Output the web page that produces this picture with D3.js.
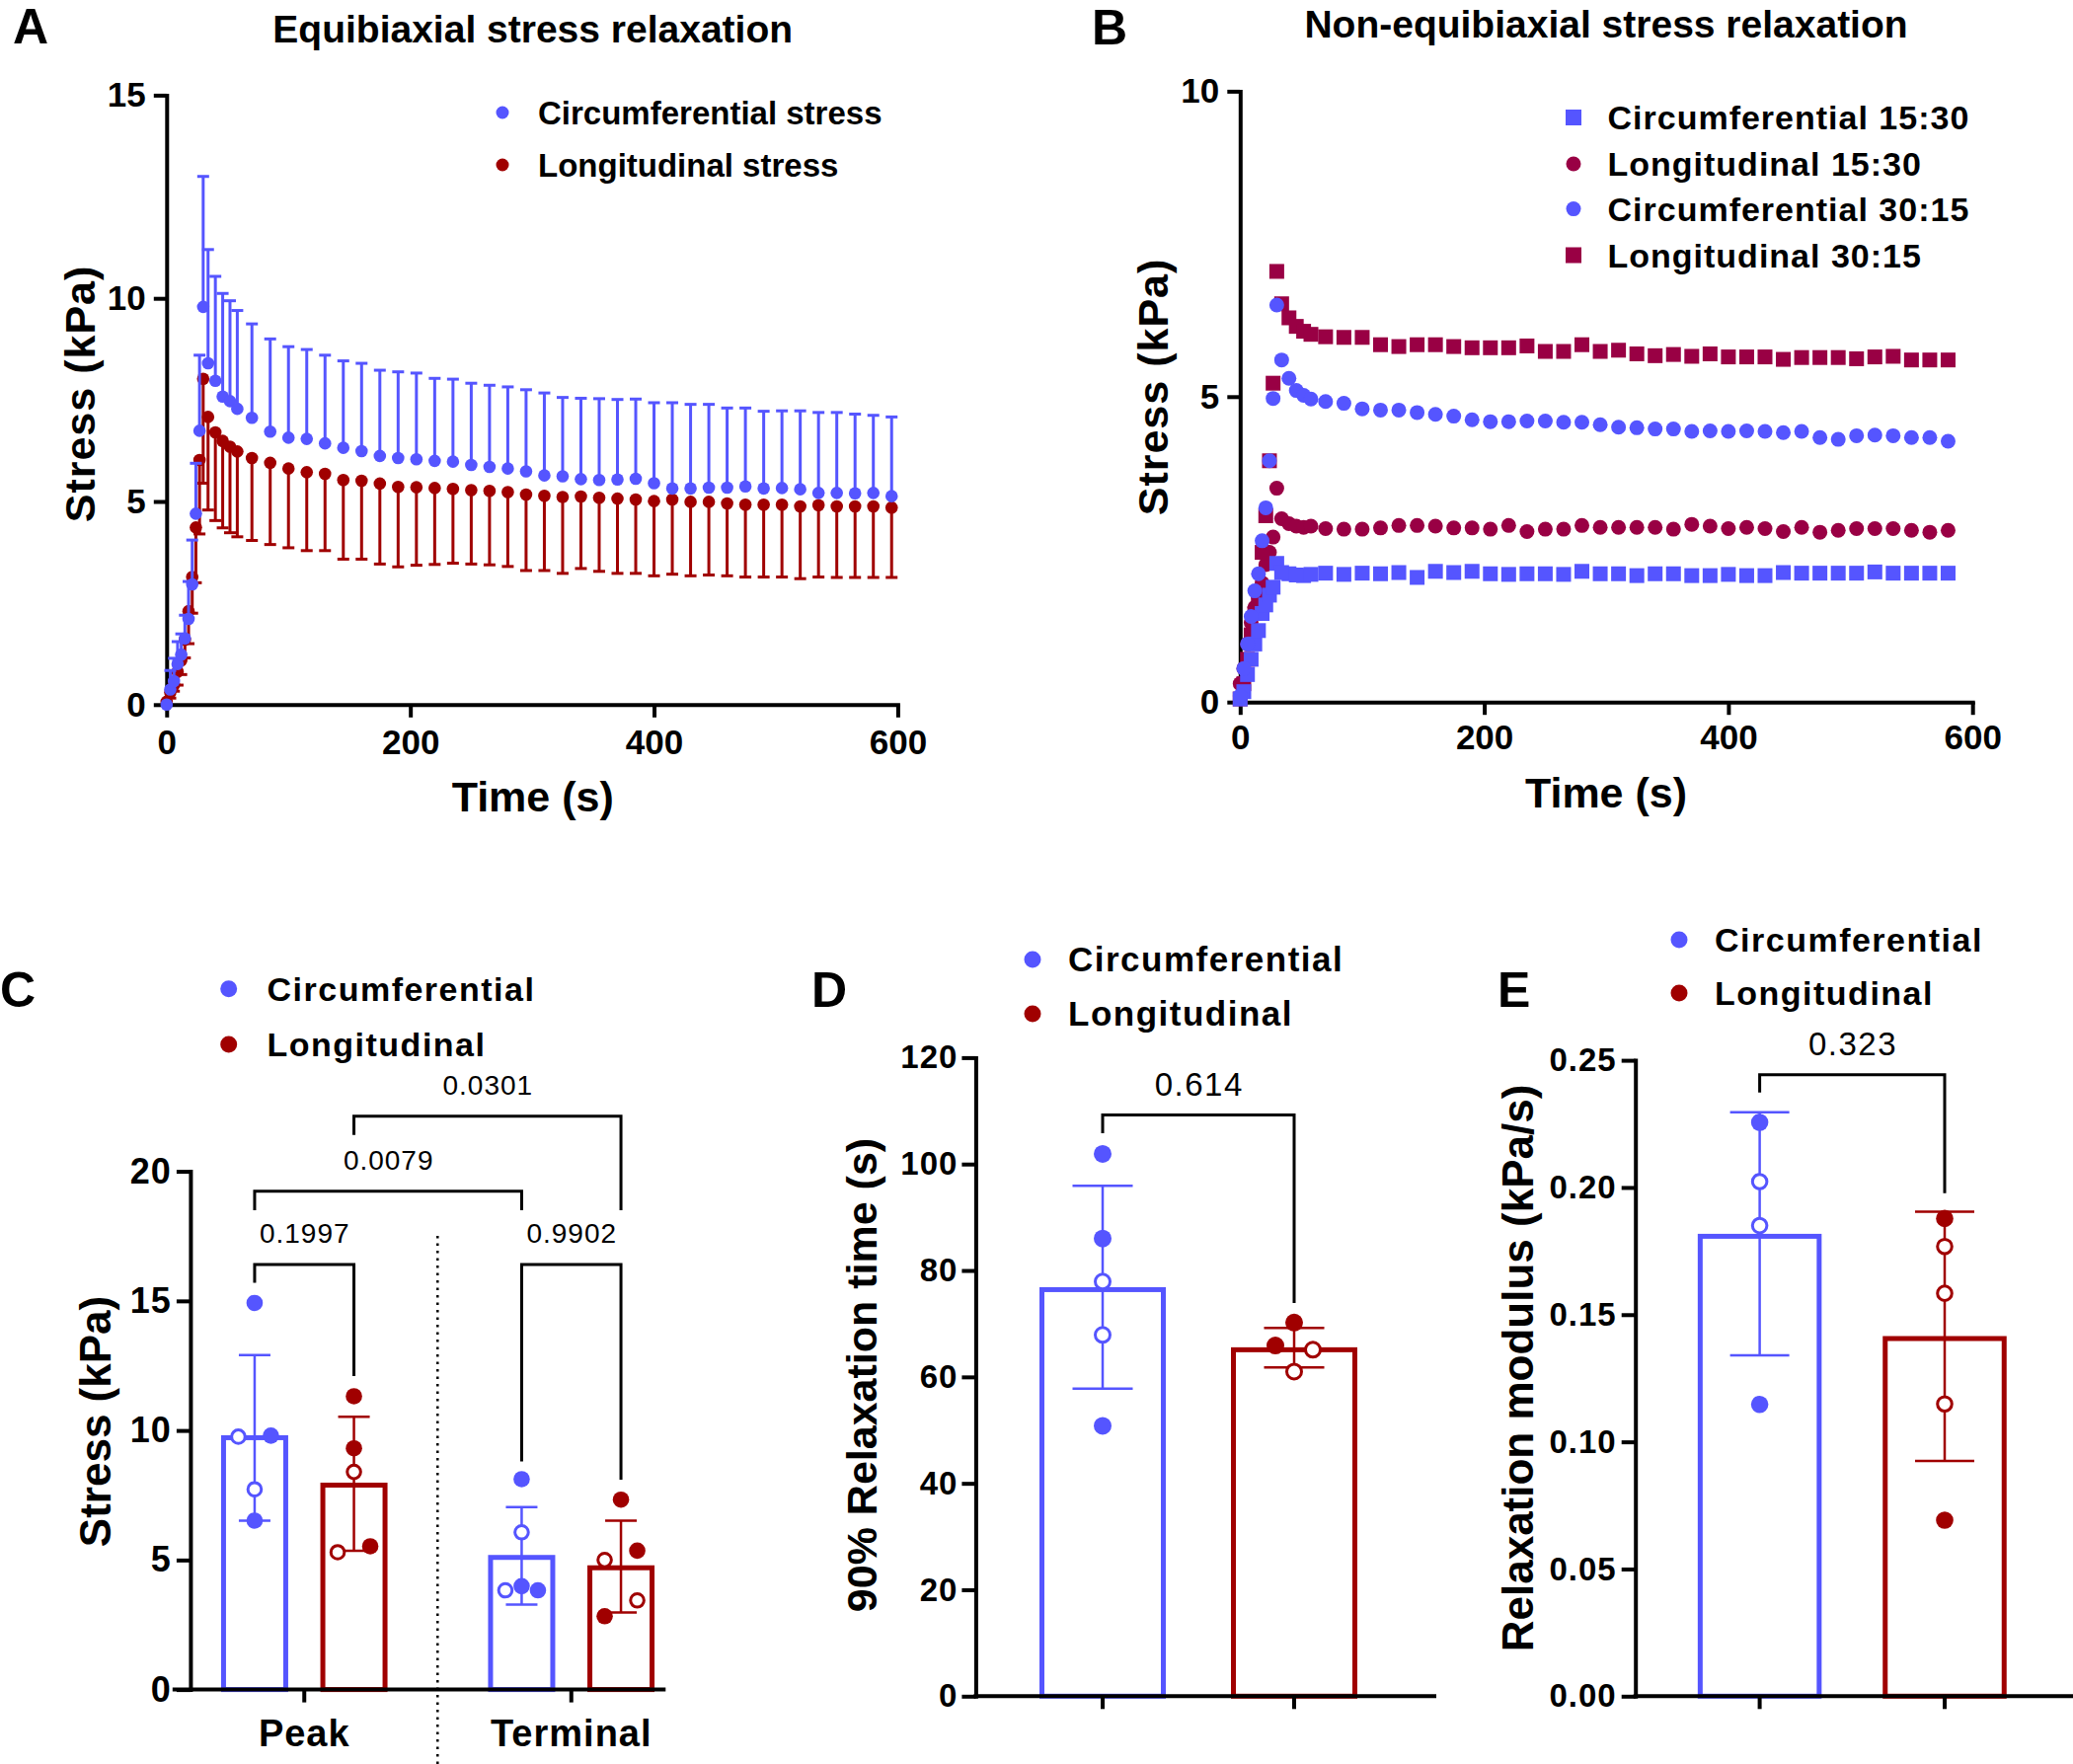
<!DOCTYPE html>
<html><head><meta charset="utf-8">
<script src="https://cdn.jsdelivr.net/npm/d3@7"></script>
<style>body{margin:0;background:#fff}svg{display:block}</style>
</head><body><svg id="c" width="2100" height="1787"></svg>
<script>
// ---------------- DATA ----------------
// Panel A: equibiaxial stress relaxation (mean, SD bar ends)
const timesA=[0,3,6,9,12,15,18,21,24,27,30,34,40,46,52,58,70,85,100,115,130,145,160,175,190,205,220,235,250,265,280,295,310,325,340,355,370,385,400,415,430,445,460,475,490,505,520,535,550,565,580,595];
const circA=[0,0.37,0.58,1.0,1.23,1.63,2.11,2.96,4.70,6.74,9.79,8.40,7.97,7.58,7.47,7.28,7.06,6.72,6.57,6.54,6.43,6.32,6.24,6.12,6.07,6.04,6.00,5.98,5.90,5.85,5.81,5.74,5.64,5.62,5.55,5.53,5.54,5.56,5.45,5.32,5.32,5.34,5.34,5.37,5.32,5.33,5.30,5.21,5.21,5.20,5.21,5.13];
const circAUpper=[0,0.84,1.14,1.55,1.74,2.2,3.03,4.05,5.94,8.6,13.0,11.2,10.54,10.12,9.94,9.70,9.37,9.0,8.81,8.74,8.60,8.46,8.40,8.23,8.19,8.16,8.03,8.01,7.91,7.86,7.82,7.75,7.67,7.56,7.54,7.53,7.51,7.52,7.43,7.43,7.39,7.39,7.30,7.30,7.22,7.23,7.23,7.19,7.19,7.15,7.12,7.08];
const longA=[0.07,0.30,0.48,0.81,1.09,1.60,2.30,3.14,4.36,6.02,8.02,7.08,6.70,6.49,6.35,6.23,6.07,5.95,5.81,5.72,5.68,5.53,5.51,5.44,5.36,5.35,5.33,5.31,5.28,5.26,5.23,5.17,5.14,5.11,5.12,5.09,5.07,5.05,5.01,5.05,4.99,4.99,4.95,4.92,4.92,4.92,4.88,4.91,4.88,4.88,4.88,4.85];
const longALower=[0.07,0.16,0.33,0.48,0.74,1.15,1.5,2.25,3.0,4.2,5.45,4.79,4.53,4.35,4.23,4.13,4.04,3.94,3.86,3.79,3.79,3.58,3.58,3.46,3.39,3.43,3.45,3.48,3.46,3.44,3.40,3.30,3.30,3.23,3.35,3.28,3.23,3.23,3.17,3.21,3.17,3.19,3.17,3.14,3.14,3.14,3.10,3.14,3.13,3.13,3.13,3.13];
const legendA=["Circumferential stress","Longitudinal stress"];

// Panel B: non-equibiaxial stress relaxation
const timesB=[0,3,6,9,12,15,18,21,24,27,30,34,40,46,52,58,70,85,100,115,130,145,160,175,190,205,220,235,250,265,280,295,310,325,340,355,370,385,400,415,430,445,460,475,490,505,520,535,550,565,580];
const circ1530=[0.05,0.17,0.45,0.70,0.95,1.17,1.45,1.59,1.75,1.88,2.27,2.12,2.10,2.08,2.07,2.09,2.11,2.09,2.11,2.10,2.12,2.04,2.14,2.12,2.14,2.10,2.09,2.10,2.10,2.09,2.14,2.10,2.10,2.07,2.10,2.10,2.07,2.07,2.09,2.07,2.07,2.12,2.11,2.11,2.11,2.11,2.13,2.11,2.11,2.11,2.11];
const long1530=[0.3,0.55,0.95,1.3,1.55,1.7,1.95,2.25,2.45,2.70,3.50,3.00,2.92,2.88,2.86,2.88,2.84,2.83,2.83,2.85,2.89,2.89,2.88,2.85,2.85,2.83,2.89,2.79,2.83,2.83,2.89,2.86,2.86,2.86,2.86,2.83,2.91,2.88,2.84,2.86,2.84,2.79,2.86,2.78,2.81,2.84,2.84,2.84,2.81,2.78,2.81];
const circ3015=[0.1,0.55,0.95,1.40,1.82,2.10,2.64,3.18,3.95,4.97,6.50,5.60,5.30,5.10,5.02,4.96,4.92,4.89,4.80,4.78,4.78,4.74,4.71,4.68,4.62,4.59,4.59,4.60,4.60,4.58,4.58,4.54,4.50,4.49,4.47,4.47,4.43,4.44,4.43,4.44,4.43,4.41,4.43,4.33,4.30,4.36,4.37,4.36,4.33,4.33,4.27];
const long3015=[0.05,0.3,0.7,1.1,1.45,1.75,2.45,3.05,3.95,5.22,7.05,6.52,6.29,6.15,6.07,6.02,5.98,5.97,5.97,5.85,5.82,5.85,5.85,5.82,5.80,5.80,5.80,5.83,5.74,5.74,5.85,5.74,5.76,5.70,5.67,5.69,5.66,5.70,5.65,5.65,5.65,5.61,5.64,5.64,5.64,5.62,5.65,5.66,5.60,5.60,5.60];
const legendB=["Circumferential 15:30","Longitudinal 15:30","Circumferential 30:15","Longitudinal 30:15"];

// Panel C: peak vs terminal stress
const groupsC=["Peak","Terminal"];
const seriesNames=["Circumferential","Longitudinal"];
const circCMean=[9.72,5.10], circCLow=[6.52,3.28], circCHigh=[12.91,7.04];
const longCMean=[7.89,4.70], longCLow=[5.36,2.98], longCHigh=[10.53,6.52];
// replicate values; slot = side-by-side position among equal values, open = hollow symbol
const circCPts=[
  [{v:14.92,slot:0,open:0},{v:9.76,slot:-1,open:1},{v:9.80,slot:1,open:0},{v:7.73,slot:0,open:1},{v:6.52,slot:0,open:0}],
  [{v:8.12,slot:0,open:0},{v:6.07,slot:0,open:1},{v:3.83,slot:-1,open:1},{v:3.99,slot:0,open:0},{v:3.83,slot:1,open:0}]];
const longCPts=[
  [{v:11.32,slot:0,open:0},{v:9.31,slot:0,open:0},{v:8.40,slot:0,open:1},{v:5.30,slot:-1,open:1},{v:5.53,slot:1,open:0}],
  [{v:7.33,slot:0,open:0},{v:5.0,slot:-1,open:1},{v:5.36,slot:1,open:0},{v:3.44,slot:1,open:1},{v:2.83,slot:-1,open:0}]];
const pvalsC=[
  {a:["Peak",0],b:["Peak",1],y:16.4,legA:15.7,legB:12.1,label:"0.1997"},
  {a:["Terminal",0],b:["Terminal",1],y:16.4,legA:8.8,legB:8.1,label:"0.9902"},
  {a:["Peak",0],b:["Terminal",0],y:19.23,legA:18.5,legB:18.5,label:"0.0079"},
  {a:["Peak",1],b:["Terminal",1],y:22.13,legA:21.4,legB:18.5,label:"0.0301"}];

// Panel D: 90% relaxation time
const meanD=[76.4,65.1], lowD=[57.8,61.8], highD=[95.9,69.2];
const ptsD=[
  [{v:101.9,slot:0,open:0},{v:86.0,slot:0,open:0},{v:77.9,slot:0,open:1},{v:67.9,slot:0,open:1},{v:50.8,slot:0,open:0}],
  [{v:70.2,slot:0,open:0},{v:65.9,slot:-1,open:0},{v:65.1,slot:1,open:1},{v:61.0,slot:0,open:1}]];
const pD={y:109.2,legA:105.8,legB:73.9,label:"0.614"};

// Panel E: relaxation modulus
const meanE=[0.1808,0.1406], lowE=[0.134,0.0925], highE=[0.2296,0.1905];
const ptsE=[
  [{v:0.2256,slot:0,open:0},{v:0.2023,slot:0,open:1},{v:0.185,slot:0,open:1},{v:0.1147,slot:0,open:0}],
  [{v:0.1878,slot:0,open:0},{v:0.1768,slot:0,open:1},{v:0.1584,slot:0,open:1},{v:0.1149,slot:0,open:1},{v:0.0692,slot:0,open:0}]];
const pE={y:0.2443,legA:0.2373,legB:0.1977,label:"0.323"};

// ---------------- DRAWING ----------------
const BLUE="#5555FF", RED="#A00000", CRIM="#990044";
const FONT='"Liberation Sans", Arial, Helvetica, sans-serif';
const svg=d3.select("#c");
svg.append("rect").attr("width",2100).attr("height",1787).attr("fill","#fff");

function txt(g,x,y,s,size,o={}){
  return g.append("text").attr("x",x).attr("y",y).text(s)
    .attr("font-family",FONT).attr("font-size",size)
    .attr("font-weight",o.w||"bold").attr("text-anchor",o.a||"start")
    .attr("fill","#000").style("letter-spacing",(o.ls||0)+"px");
}
function vtxt(g,cx,cy,s,size,o={}){
  return g.append("text").attr("transform",`translate(${cx},${cy}) rotate(-90)`)
    .attr("text-anchor","middle").attr("dy","0.36em").text(s)
    .attr("font-family",FONT).attr("font-size",size).attr("font-weight","bold")
    .attr("fill","#000").style("letter-spacing",(o.ls||0)+"px");
}
function styleAxis(g,size,ls){
  g.attr("font-family",FONT).attr("font-size",size).attr("font-weight","bold");
  g.select(".domain").attr("stroke","#000").attr("stroke-width",4).attr("stroke-linecap","square");
  g.selectAll(".tick line").attr("stroke","#000").attr("stroke-width",4);
  g.selectAll(".tick text").attr("fill","#000").style("letter-spacing",(ls||0)+"px");
}

// ===== Panel A =====
(function(){
  const g=svg.append("g");
  const x=d3.scaleLinear().domain([0,600]).range([168.8,909.4]);
  const y=d3.scaleLinear().domain([0,15]).range([713.8,96.4]);
  const gy=g.append("g").attr("transform",`translate(${x(0)},0)`)
    .call(d3.axisLeft(y).tickValues([0,5,10,15]).tickSize(13).tickSizeOuter(0).tickPadding(8));
  styleAxis(gy,35);
  const gx=g.append("g").attr("transform",`translate(0,${y(0)})`)
    .call(d3.axisBottom(x).tickValues([0,200,400,600]).tickSize(13).tickSizeOuter(0).tickPadding(12));
  styleAxis(gx,35);
  const idx=d3.range(timesA.length);
  const eb=g.append("g").attr("stroke",RED).attr("stroke-width",3);
  idx.filter(i=>i>0).forEach(i=>{
    eb.append("line").attr("x1",x(timesA[i])).attr("x2",x(timesA[i])).attr("y1",y(longA[i])).attr("y2",y(longALower[i]));
    eb.append("line").attr("x1",x(timesA[i])-6).attr("x2",x(timesA[i])+6).attr("y1",y(longALower[i])).attr("y2",y(longALower[i]));
  });
  g.append("g").selectAll("circle").data(idx).join("circle")
    .attr("cx",i=>x(timesA[i])).attr("cy",i=>y(longA[i])).attr("r",6.3).attr("fill",RED);
  const eb2=g.append("g").attr("stroke",BLUE).attr("stroke-width",3);
  idx.filter(i=>i>0).forEach(i=>{
    eb2.append("line").attr("x1",x(timesA[i])).attr("x2",x(timesA[i])).attr("y1",y(circA[i])).attr("y2",y(circAUpper[i]));
    eb2.append("line").attr("x1",x(timesA[i])-6).attr("x2",x(timesA[i])+6).attr("y1",y(circAUpper[i])).attr("y2",y(circAUpper[i]));
  });
  g.append("g").selectAll("circle").data(idx).join("circle")
    .attr("cx",i=>x(timesA[i])).attr("cy",i=>y(circA[i])).attr("r",6.3).attr("fill",BLUE);
  txt(g,13,44,"A",50);
  txt(g,539.7,43,"Equibiaxial stress relaxation",39,{a:"middle"});
  txt(g,539.7,822,"Time (s)",43,{a:"middle"});
  vtxt(g,80.4,399,"Stress (kPa)",43,{ls:1});
  [BLUE,RED].forEach((c,k)=>{
    g.append("circle").attr("cx",509).attr("cy",114+k*53).attr("r",6.5).attr("fill",c);
    txt(g,545,126+k*53,legendA[k],33);
  });
})();

// ===== Panel B =====
(function(){
  const g=svg.append("g");
  const x=d3.scaleLinear().domain([0,600]).range([1256.3,1998.2]);
  const y=d3.scaleLinear().domain([0,10]).range([711.2,92.4]);
  const gy=g.append("g").attr("transform",`translate(${x(0)},0)`)
    .call(d3.axisLeft(y).tickValues([0,5,10]).tickSize(13).tickSizeOuter(0).tickPadding(8));
  styleAxis(gy,35);
  const gx=g.append("g").attr("transform",`translate(0,${y(0)})`)
    .call(d3.axisBottom(x).tickValues([0,200,400,600]).tickSize(13).tickSizeOuter(0).tickPadding(10));
  styleAxis(gx,35);
  const idx=d3.range(timesB.length);
  const S=15;
  g.append("g").selectAll("circle").data(idx).join("circle")
    .attr("cx",i=>x(timesB[i])).attr("cy",i=>y(long1530[i])).attr("r",7.5).attr("fill",CRIM);
  g.append("g").selectAll("rect").data(idx).join("rect")
    .attr("x",i=>x(timesB[i])-S/2).attr("y",i=>y(long3015[i])-S/2).attr("width",S).attr("height",S).attr("fill",CRIM);
  g.append("g").selectAll("rect").data(idx).join("rect")
    .attr("x",i=>x(timesB[i])-S/2).attr("y",i=>y(circ1530[i])-S/2).attr("width",S).attr("height",S).attr("fill",BLUE);
  g.append("g").selectAll("circle").data(idx).join("circle")
    .attr("cx",i=>x(timesB[i])).attr("cy",i=>y(circ3015[i])).attr("r",7.5).attr("fill",BLUE);
  txt(g,1106,45,"B",50);
  txt(g,1627,38,"Non-equibiaxial stress relaxation",39,{a:"middle"});
  txt(g,1627,818,"Time (s)",43,{a:"middle"});
  vtxt(g,1168,392,"Stress (kPa)",43,{ls:1});
  const ly=[119,166,211.6,258.5];
  const kinds=[["rect",BLUE],["circle",CRIM],["circle",BLUE],["rect",CRIM]];
  kinds.forEach(([k,c],i)=>{
    if(k==="rect") g.append("rect").attr("x",1594-8).attr("y",ly[i]-8).attr("width",16).attr("height",16).attr("fill",c);
    else g.append("circle").attr("cx",1594).attr("cy",ly[i]).attr("r",7.5).attr("fill",c);
    txt(g,1628.5,ly[i]+12,legendB[i],34,{ls:1});
  });
})();

// shared helpers for bar panels
function drawPoints(g,pts,cx,y,color,r,dx){
  pts.forEach(p=>{
    g.append("circle").attr("cx",cx+p.slot*dx).attr("cy",y(p.v)).attr("r",p.open?r-1.5:r)
      .attr("fill",p.open?"#fff":color).attr("stroke",color).attr("stroke-width",p.open?3:0);
  });
}
function drawBar(g,cx,w,y,v,color){
  g.append("rect").attr("x",cx-w/2).attr("y",y(v)).attr("width",w).attr("height",y(0)-y(v))
    .attr("fill","#fff").attr("stroke",color).attr("stroke-width",5);
}
function drawErr(g,cx,y,lo,hi,color,cw){
  g.append("line").attr("x1",cx).attr("x2",cx).attr("y1",y(lo)).attr("y2",y(hi)).attr("stroke",color).attr("stroke-width",2.5);
  [lo,hi].forEach(v=>g.append("line").attr("x1",cx-cw).attr("x2",cx+cw).attr("y1",y(v)).attr("y2",y(v)).attr("stroke",color).attr("stroke-width",2.5));
}
function drawBracket(g,xa,xb,y,b,size,ls,off){
  g.append("path").attr("d",`M${xa},${y(b.legA)}V${y(b.y)}H${xb}V${y(b.legB)}`)
    .attr("fill","none").attr("stroke","#000").attr("stroke-width",3);
  txt(g,(xa+xb)/2+ls/2,y(b.y)-off,b.label,size,{a:"middle",w:"normal",ls:ls});
}
function legendCDE(g,x0,y0,dy,size,ls,tx){
  [BLUE,RED].forEach((c,k)=>{
    g.append("circle").attr("cx",x0).attr("cy",y0+k*dy).attr("r",8.5).attr("fill",c);
    txt(g,tx,y0+k*dy+12,seriesNames[k],size,{ls:ls});
  });
}

// ===== Panel C =====
(function(){
  const g=svg.append("g");
  const y=d3.scaleLinear().domain([0,20]).range([1711.6,1186.6]);
  const xg=d3.scaleBand().domain(groupsC).range([173,714]);
  const xs=d3.scalePoint().domain([0,1]).range([-50.3,50.3]);
  const cx=(grp,s)=>xg(grp)+xg.bandwidth()/2+xs(s);
  g.append("line").attr("x1",443.3).attr("x2",443.3).attr("y1",1252).attr("y2",1787)
    .attr("stroke","#000").attr("stroke-width",2.5).attr("stroke-dasharray","2.5,5");
  groupsC.forEach((grp,i)=>{
    drawBar(g,cx(grp,0),63,y,circCMean[i],BLUE);
    drawBar(g,cx(grp,1),63,y,longCMean[i],RED);
  });
  const gy=g.append("g").attr("transform",`translate(192.9,0)`)
    .call(d3.axisLeft(y).tickValues([0,5,10,15,20]).tickSize(14).tickSizeOuter(0).tickPadding(5));
  styleAxis(gy,36,1);
  const gx=g.append("g").attr("transform",`translate(0,${y(0)})`)
    .call(d3.axisBottom(xg).tickSize(13).tickSizeOuter(0).tickPadding(17));
  styleAxis(gx,38,1);
  gx.select(".domain").attr("d","M176.8,0H672.3");
  groupsC.forEach((grp,i)=>{
    drawErr(g,cx(grp,0),y,circCLow[i],circCHigh[i],BLUE,16);
    drawErr(g,cx(grp,1),y,longCLow[i],longCHigh[i],RED,16);
    drawPoints(g,circCPts[i],cx(grp,0),y,BLUE,8.3,16.5);
    drawPoints(g,longCPts[i],cx(grp,1),y,RED,8.3,16.5);
  });
  pvalsC.forEach(b=>drawBracket(g,cx(b.a[0],b.a[1]),cx(b.b[0],b.b[1]),y,b,28,1,22));
  txt(g,0,1020,"C",50);
  legendCDE(g,231.7,1001.8,56.2,34,1.5,270.5);
  vtxt(g,96,1440,"Stress (kPa)",44);
})();

// ===== Panel D =====
(function(){
  const g=svg.append("g");
  const y=d3.scaleLinear().domain([0,120]).range([1718.3,1071.4]);
  const x=d3.scaleBand().domain(seriesNames).range([1020,1408]);
  const cx=k=>x(seriesNames[k])+x.bandwidth()/2;
  [BLUE,RED].forEach((c,k)=>drawBar(g,cx(k),123,y,meanD[k],c));
  const gy=g.append("g").attr("transform",`translate(988.4,0)`)
    .call(d3.axisLeft(y).tickValues([0,20,40,60,80,100,120]).tickSize(14).tickSizeOuter(0).tickPadding(4));
  styleAxis(gy,33,1);
  const gx=g.append("g").attr("transform",`translate(0,${y(0)})`)
    .call(d3.axisBottom(x).tickSize(13).tickSizeOuter(0).tickFormat(""));
  styleAxis(gx,30);
  gx.select(".domain").attr("d","M988.4,0H1453");
  [BLUE,RED].forEach((c,k)=>{
    drawErr(g,cx(k),y,lowD[k],highD[k],c,30.5);
    drawPoints(g,ptsD[k],cx(k),y,c,9,19);
  });
  drawBracket(g,cx(0),cx(1),y,pD,33,1.5,20);
  txt(g,822,1020,"D",50);
  legendCDE(g,1046,972,55,35,1.5,1082);
  vtxt(g,873,1393,"90% Relaxation time (s)",43);
})();

// ===== Panel E =====
(function(){
  const g=svg.append("g");
  const y=d3.scaleLinear().domain([0,0.25]).range([1718.3,1074.1]);
  const x=d3.scaleBand().domain(seriesNames).range([1688.9,2063.7]);
  const cx=k=>x(seriesNames[k])+x.bandwidth()/2;
  [BLUE,RED].forEach((c,k)=>drawBar(g,cx(k),120.5,y,meanE[k],c));
  const gy=g.append("g").attr("transform",`translate(1656.7,0)`)
    .call(d3.axisLeft(y).tickValues([0,0.05,0.10,0.15,0.20,0.25]).tickFormat(d3.format(".2f")).tickSize(14).tickSizeOuter(0).tickPadding(5));
  styleAxis(gy,33,1);
  const gx=g.append("g").attr("transform",`translate(0,${y(0)})`)
    .call(d3.axisBottom(x).tickSize(13).tickSizeOuter(0).tickFormat(""));
  styleAxis(gx,30);
  gx.select(".domain").attr("d","M1656.7,0H2100");
  [BLUE,RED].forEach((c,k)=>{
    drawErr(g,cx(k),y,lowE[k],highE[k],c,30);
    drawPoints(g,ptsE[k],cx(k),y,c,8.8,0);
  });
  drawBracket(g,cx(0),cx(1),y,pE,33,1.5,20);
  txt(g,1517,1020,"E",50);
  legendCDE(g,1701,952,54,34,1.5,1737);
  vtxt(g,1537.5,1386,"Relaxation modulus (kPa/s)",44);
})();
</script></body></html>
